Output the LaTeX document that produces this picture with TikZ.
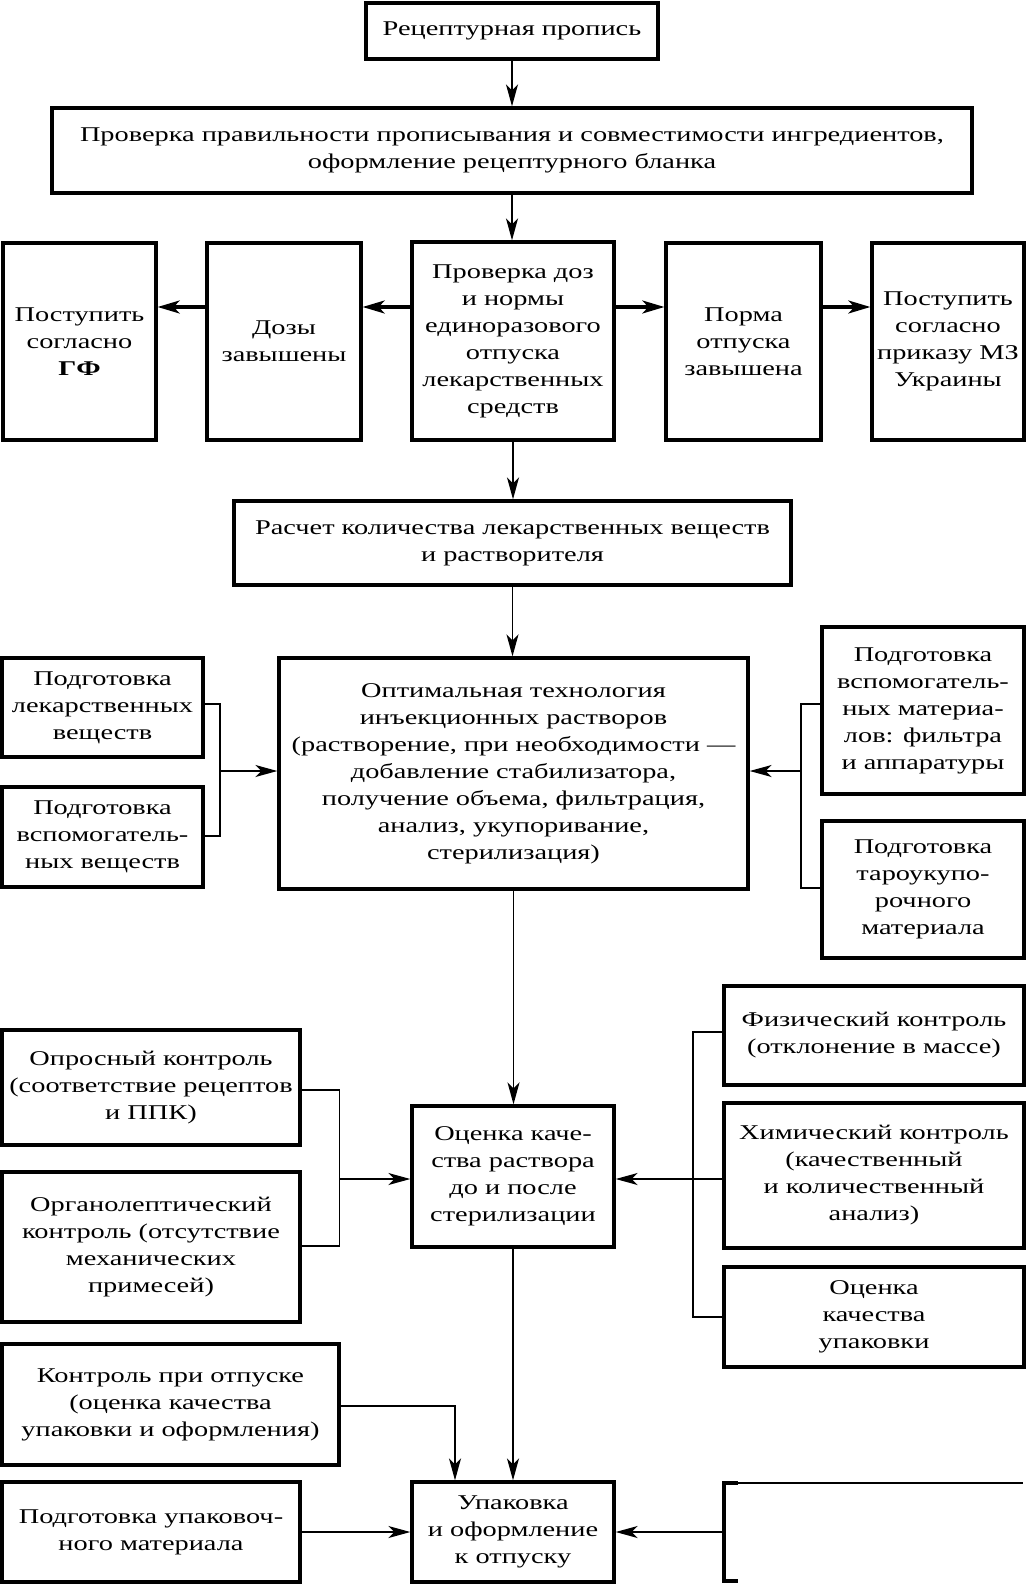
\documentclass[tikz,border=0pt]{standalone}
\usepackage{fontspec}
\setmainfont{Liberation Serif}[FakeStretch=1.35]
\usetikzlibrary{arrows.meta}
\begin{document}
\begin{tikzpicture}[x=1pt,y=-1pt,
  box/.style={draw, line width=3.3pt, align=center, inner sep=0pt, font=\fontsize{21}{27}\selectfont},
  conn/.style={line width=1.9pt},
  arr/.style={conn, -{Stealth[length=22pt,width=12pt,inset=6pt]}},
  tarr/.style={line width=3.2pt, -{Stealth[length=22pt,width=13pt,inset=6pt]}}]
\useasboundingbox (0,0) rectangle (1028,1584);

\node[box, minimum width=292pt, minimum height=56pt] (b1) at (512,31) {Рецептурная пропись};
\node[box, minimum width=920pt, minimum height=85pt] (b2) at (512,150.5) {Проверка правильности прописывания и совместимости ингредиентов,\\оформление рецептурного бланка};

\node[box, minimum width=153pt, minimum height=197pt] (gf) at (79.5,341.5) {Поступить\\согласно\\\textbf{ГФ}};
\node[box, minimum width=154pt, minimum height=197pt] (dz) at (284,341.5) {Дозы\\завышены};
\node[box, minimum width=202pt, minimum height=198pt] (cd) at (513,341) {Проверка доз\\и нормы\\единоразового\\отпуска\\лекарственных\\средств};
\node[box, minimum width=155pt, minimum height=197pt] (nm) at (743.5,341.5) {Порма\\отпуска\\завышена};
\node[box, minimum width=152pt, minimum height=197pt] (mz) at (948,341.5) {Поступить\\согласно\\приказу МЗ\\Украины};

\node[box, minimum width=557pt, minimum height=84pt] (rs) at (512.5,543) {Расчет количества лекарственных веществ\\и растворителя};

\node[box, minimum width=469pt, minimum height=231pt] (big) at (513.5,773.5) {Оптимальная технология\\инъекционных растворов\\(растворение, при необходимости —\\добавление стабилизатора,\\получение объема, фильтрация,\\анализ, укупоривание,\\стерилизация)};
\node[box, minimum width=201pt, minimum height=99pt] (l1) at (102.5,707.5) {Подготовка\\лекарственных\\веществ};
\node[box, minimum width=201pt, minimum height=100pt] (l2) at (102.5,837) {Подготовка\\вспомогатель-\\ных веществ};
\node[box, minimum width=202pt, minimum height=167pt] (r1) at (923,710.5) {Подготовка\\вспомогатель-\\ных материа-\\лов: фильтра\\и аппаратуры};
\node[box, minimum width=202pt, minimum height=137pt] (r2) at (923,889.5) {Подготовка\\тароукупо-\\рочного\\материала};

\node[box, minimum width=298pt, minimum height=115pt] (op) at (151,1087.5) {Опросный контроль\\(соответствие рецептов\\и ППК)};
\node[box, minimum width=298pt, minimum height=150pt] (org) at (151,1247) {Органолептический\\контроль (отсутствие\\механических\\примесей)};
\node[box, minimum width=202pt, minimum height=141pt] (oc) at (513,1176.5) {Оценка каче-\\ства раствора\\до и после\\стерилизации};
\node[box, minimum width=300pt, minimum height=99pt] (fz) at (874,1035.5) {Физический контроль\\(отклонение в массе)};
\node[box, minimum width=300pt, minimum height=145pt] (hm) at (874,1175.5) {Химический контроль\\(качественный\\и количественный\\анализ)};
\node[box, minimum width=300pt, minimum height=100pt] (ou) at (874,1317) {Оценка\\качества\\упаковки};

\node[box, minimum width=337pt, minimum height=121pt] (ko) at (170.5,1404.5) {Контроль при отпуске\\(оценка качества\\упаковки и оформления)};
\node[box, minimum width=298pt, minimum height=100pt] (pu) at (151,1532) {Подготовка упаковоч-\\ного материала};
\node[box, minimum width=202pt, minimum height=100pt] (up) at (513,1532) {Упаковка\\и оформление\\к отпуску};

% main vertical flow
\draw[arr] (b1.south) -- (b2.north);
\draw[arr] (b2.south) -- (b2.south |- cd.north);
\draw[arr] (cd.south) -- (cd.south |- rs.north);
\draw[arr] (rs.south) -- (rs.south |- big.north);
\draw[arr] (big.south) -- (big.south |- oc.north);
\draw[arr] (oc.south) -- (oc.south |- up.north);

% row of dose checks
\coordinate (ry) at (0,307);
\draw[tarr] (cd.west |- ry) -- (dz.east |- ry);
\draw[tarr] (dz.west |- ry) -- (gf.east |- ry);
\draw[tarr] (cd.east |- ry) -- (nm.west |- ry);
\draw[tarr] (nm.east |- ry) -- (mz.west |- ry);

% preparation inputs
\coordinate (lt) at (220,704);
\coordinate (lb) at (220,836);
\coordinate (lc) at (220,771);
\draw[conn] (l1.east |- lt) -- (lt) -- (lb) -- (l2.east |- lb);
\draw[arr] (lc) -- (big.west |- lc);
\coordinate (rt) at (801,704);
\coordinate (rb) at (801,888);
\coordinate (rc) at (801,771);
\draw[conn] (r1.west |- rt) -- (rt) -- (rb) -- (r2.west |- rb);
\draw[arr] (rc) -- (big.east |- rc);

% quality control inputs
\coordinate (qlt) at (339.5,1090);
\coordinate (qlb) at (339.5,1246);
\coordinate (qlc) at (339.5,1179);
\draw[conn] (op.east |- qlt) -- (qlt) -- (qlb) -- (org.east |- qlb);
\draw[arr] (qlc) -- (oc.west |- qlc);
\coordinate (qrt) at (693,1032);
\coordinate (qrb) at (693,1317);
\coordinate (qrc) at (693,1179);
\draw[conn] (fz.west |- qrt) -- (qrt) -- (qrb) -- (ou.west |- qrb);
\draw[arr] (hm.west |- qrc) -- (oc.east |- qrc);

% packaging inputs
\coordinate (kb) at (455,1406);
\draw[arr] (ko.east |- kb) -- (kb) -- (kb |- up.north);
\draw[arr] (pu.east) -- (up.west);
\coordinate (pt) at (724,1483);
\coordinate (pb) at (724,1581);
\coordinate (ptr) at (738,1483);
\coordinate (pbr) at (738,1581);
\coordinate (pend) at (1023,1483);
\coordinate (pm) at (722.4,1532);
\draw[line width=3.3pt] (ptr) -- (pt) -- (pb) -- (pbr);
\draw[line width=1.3pt] (ptr) -- (pend);
\draw[arr] (pm) -- (up.east);
\end{tikzpicture}
\end{document}
